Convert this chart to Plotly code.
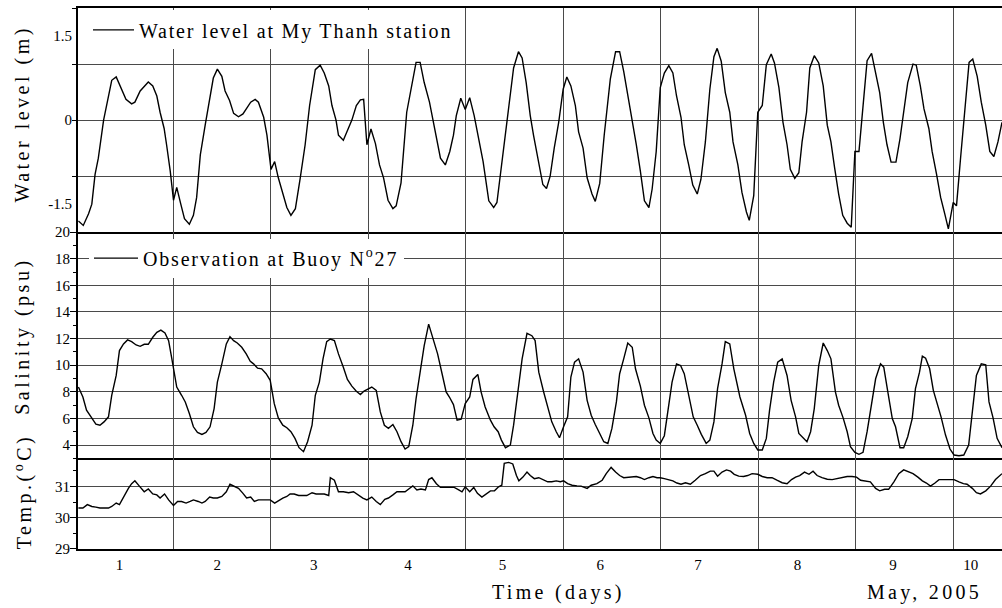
import plotly.graph_objects as go

# ---------------- data (hours since 1 May 2005, 00:00) ----------------
wl_hours = [0.7, 1.9, 3.2, 4.0, 4.8, 5.6, 6.9, 7.8, 8.9, 10.0, 11.1, 12.4, 13.8, 14.6, 15.9, 17.9, 19.0, 20.0,
            20.8, 21.8, 22.4, 23.3, 24.1, 24.9, 25.9, 26.8, 28.0, 29.0, 29.8, 30.7, 31.9, 33.0, 33.9, 34.9,
            36.0, 36.8, 37.9, 38.9, 40.1, 41.2, 42.1, 43.1, 44.2, 45.0, 46.3, 47.1, 48.1, 49.0, 49.9, 51.0,
            52.0, 53.0, 54.1, 55.3, 56.5, 57.6, 59.0, 60.2, 61.2, 62.3, 63.1, 64.1, 64.7, 65.9, 67.2, 68.0,
            69.1, 70.1, 70.9, 71.7, 72.7, 73.8, 74.8, 75.8, 76.9, 78.1, 78.9, 80.1, 81.5, 82.8, 83.8, 84.8,
            85.8, 87.1, 88.1, 88.9, 89.8, 91.0, 92.1, 93.0, 93.7, 94.8, 95.9, 97.0, 98.1, 99.2, 100.3, 101.7,
            102.9, 103.7, 104.7, 105.8, 106.8, 107.8, 109.0, 109.9, 110.9, 111.9, 112.7, 114.0, 115.0, 115.9,
            116.8, 117.8, 118.9, 120.0, 120.9, 121.9, 123.0, 123.8, 124.9, 125.9, 127.1, 127.9, 129.0, 130.1,
            131.6, 132.9, 133.9, 134.9, 136.0, 137.0, 138.0, 139.0, 140.0, 141.1, 141.9, 142.9, 143.9, 144.9,
            146.0, 147.0, 147.9, 149.0, 149.8, 150.9, 151.9, 153.0, 153.9, 155.0, 156.1, 157.1, 157.9, 158.9,
            159.9, 161.0, 161.8, 163.0, 164.0, 165.1, 165.8, 166.9, 167.9, 169.0, 170.0, 171.2, 172.0, 173.1,
            174.1, 175.1, 175.9, 177.0, 178.0, 178.8, 179.9, 180.7, 181.8, 182.9, 184.0, 185.0, 185.9, 186.8,
            187.8, 188.8, 189.9, 190.9, 191.8, 192.8, 193.8, 194.8, 195.9, 196.9, 197.9, 198.8, 199.7, 200.7,
            201.9, 202.9, 203.8, 204.8, 206.1, 206.9, 207.9, 208.8, 210.0, 210.8, 211.9, 212.9, 213.9, 214.8,
            216.0, 216.8, 217.8, 218.8, 219.9, 220.8, 221.9, 222.9, 224.0, 225.0, 226.0, 227.0, 228.0]
wl_values = [-1.80, -1.88, -1.67, -1.50, -0.97, -0.68, 0.00, 0.32, 0.71, 0.77, 0.58, 0.37, 0.29, 0.32, 0.52, 0.68,
             0.61, 0.43, 0.14, -0.15, -0.44, -0.91, -1.43, -1.20, -1.50, -1.76, -1.86, -1.70, -1.38, -0.62, -0.09,
             0.40, 0.75, 0.91, 0.78, 0.52, 0.35, 0.12, 0.06, 0.11, 0.20, 0.32, 0.37, 0.32, 0.05, -0.27, -0.88,
             -0.74, -1.03, -1.32, -1.56, -1.70, -1.58, -1.03, -0.44, 0.26, 0.90, 0.98, 0.84, 0.61, 0.26, 0.00,
             -0.27, -0.36, -0.15, 0.00, 0.26, 0.36, 0.37, -0.44, -0.16, -0.42, -0.80, -1.03, -1.43, -1.58, -1.53,
             -1.12, 0.14, 0.67, 1.03, 1.03, 0.67, 0.32, -0.04, -0.33, -0.68, -0.80, -0.56, -0.27, 0.08, 0.39,
             0.19, 0.40, 0.08, -0.33, -0.74, -1.44, -1.56, -1.47, -0.91, -0.27, 0.37, 0.93, 1.22, 1.11, 0.67,
             0.08, -0.27, -0.80, -1.15, -1.22, -1.00, -0.50, -0.04, 0.55, 0.77, 0.61, 0.26, -0.21, -0.50, -1.03,
             -1.32, -1.45, -1.13, -0.27, 0.73, 1.22, 1.22, 0.87, 0.43, 0.02, -0.44, -0.91, -1.44, -1.56, -1.23,
             -0.56, 0.58, 0.84, 0.97, 0.84, 0.43, 0.05, -0.44, -0.80, -1.16, -1.32, -1.06, -0.39, 0.55, 1.13,
             1.28, 1.05, 0.49, 0.14, -0.39, -0.80, -1.29, -1.64, -1.79, -1.35, 0.14, 0.26, 0.99, 1.18, 1.02,
             0.58, -0.04, -0.44, -0.88, -1.04, -0.94, -0.39, 0.14, 0.93, 1.15, 1.02, 0.61, -0.09, -0.39, -0.85,
             -1.32, -1.70, -1.84, -1.91, -0.56, -0.56, 0.26, 1.06, 1.19, 0.84, 0.49, -0.04, -0.44, -0.75, -0.75,
             -0.33, 0.14, 0.67, 1.00, 0.98, 0.61, 0.20, -0.15, -0.56, -0.97, -1.38, -1.67, -1.94, -1.47, -1.53,
             -0.68, 0.20, 1.03, 1.09, 0.78, 0.32, -0.09, -0.56, -0.65, -0.39, -0.04]

sal_hours = [0.7, 1.8, 2.7, 4.0, 5.0, 6.0, 7.0, 8.1, 8.9, 10.0, 10.8, 11.8, 12.8, 13.8, 14.9, 15.9, 16.9, 17.9,
             19.0, 20.0, 21.0, 22.0, 22.9, 23.7, 24.9, 26.1, 27.0, 28.0, 29.0, 30.0, 31.1, 32.1, 33.1, 34.1,
             34.9, 36.0, 37.1, 38.0, 38.9, 39.8, 40.9, 42.0, 43.0, 43.8, 44.8, 45.8, 46.9, 47.9, 48.9, 49.9,
             51.0, 52.0, 53.0, 54.0, 55.0, 56.1, 57.1, 58.2, 59.0, 60.0, 60.9, 61.8, 62.7, 63.7, 64.7, 65.9,
             66.9, 68.0, 69.1, 70.1, 71.0, 72.9, 74.0, 75.0, 76.0, 77.0, 78.1, 79.1, 80.1, 81.1, 82.0, 83.0,
             83.8, 84.8, 85.8, 86.9, 87.9, 89.1, 90.2, 91.2, 92.0, 93.0, 93.9, 94.9, 95.9, 97.0, 97.8, 99.0,
             99.8, 100.8, 102.1, 103.0, 104.0, 104.8, 105.8, 107.0, 107.8, 108.8, 109.9, 111.1, 112.3, 113.1,
             114.0, 115.2, 116.2, 117.2, 118.3, 119.1, 120.1, 121.1, 121.9, 122.8, 123.8, 124.9, 125.9, 126.9,
             127.9, 129.0, 130.0, 131.0, 132.0, 133.1, 133.9, 134.9, 135.9, 137.0, 137.8, 139.0, 140.0, 141.1,
             142.1, 142.9, 143.9, 144.9, 146.0, 146.8, 147.9, 148.9, 149.8, 150.9, 152.0, 153.0, 154.0, 155.2,
             156.1, 157.1, 158.0, 159.1, 159.9, 161.0, 162.0, 163.5, 164.9, 165.9, 166.9, 167.9, 169.0, 170.0,
             170.8, 171.8, 172.8, 173.9, 175.1, 176.1, 177.2, 178.0, 179.1, 180.0, 180.9, 181.8, 182.9, 184.0,
             185.0, 185.9, 187.0, 187.8, 188.9, 189.9, 190.7, 191.8, 192.8, 193.8, 194.8, 195.8, 196.9, 198.1,
             198.9, 199.9, 201.0, 201.8, 202.9, 203.8, 204.8, 205.9, 206.7, 207.7, 208.4, 209.2, 210.2, 211.1,
             212.0, 213.0, 214.1, 215.2, 216.2, 217.4, 218.6, 219.8, 220.7, 221.7, 222.9, 224.0, 224.8, 225.8,
             226.8, 228.0]
sal_values = [8.36, 7.61, 6.62, 5.99, 5.57, 5.49, 5.74, 6.12, 7.74, 9.23, 11.10, 11.60, 11.90, 11.77, 11.52,
              11.42, 11.57, 11.57, 12.10, 12.47, 12.64, 12.42, 11.85, 10.48, 8.36, 7.74, 7.24, 6.37, 5.37, 4.95,
              4.80, 4.95, 5.37, 6.74, 8.73, 10.10, 11.60, 12.15, 11.85, 11.67, 11.35, 10.85, 10.30, 10.10, 9.78,
              9.73, 9.36, 8.86, 7.11, 6.04, 5.49, 5.30, 5.00, 4.50, 3.80, 3.50, 4.25, 5.49, 7.74, 8.73, 10.48,
              11.77, 11.97, 11.85, 10.85, 9.85, 8.93, 8.43, 8.04, 7.79, 8.06, 8.36, 8.11, 6.49, 5.49, 5.25, 5.54,
              5.00, 4.25, 3.70, 3.88, 5.49, 7.49, 9.48, 11.47, 13.09, 12.10, 10.85, 9.36, 7.99, 7.61, 7.04, 5.87,
              5.94, 7.11, 7.61, 8.93, 9.31, 7.99, 6.86, 5.87, 5.37, 5.00, 4.37, 3.80, 4.00, 5.49, 7.99, 10.48,
              12.40, 12.22, 11.85, 9.48, 7.99, 6.86, 5.74, 5.00, 4.55, 5.37, 6.12, 9.11, 10.23, 10.48, 9.48, 7.36,
              6.24, 5.54, 4.87, 4.25, 4.12, 5.25, 7.24, 9.36, 10.48, 11.67, 11.35, 9.73, 8.43, 6.99, 6.04, 4.87,
              4.37, 4.12, 4.70, 6.86, 8.73, 10.10, 9.98, 9.36, 7.86, 6.12, 5.49, 4.80, 4.12, 4.37, 5.74, 8.24,
              10.10, 11.77, 11.60, 9.73, 7.61, 6.24, 4.87, 4.12, 3.63, 3.63, 4.50, 6.62, 8.73, 10.23, 10.48, 9.23,
              7.36, 6.12, 4.87, 4.55, 4.25, 5.00, 6.74, 9.98, 11.67, 11.10, 10.48, 7.99, 6.99, 6.04, 5.00, 3.88,
              3.45, 3.30, 3.45, 5.00, 6.99, 8.98, 10.10, 9.85, 7.99, 5.99, 5.37, 3.80, 3.80, 4.62, 5.99, 8.24,
              9.48, 10.68, 10.53, 9.73, 8.11, 7.24, 6.12, 4.75, 3.70, 3.25, 3.20, 3.25, 4.00, 6.49, 9.23, 10.10,
              10.03, 7.24, 6.04, 4.50, 3.80]

temp_hours = [0.7, 1.8, 2.9, 4.0, 5.0, 6.0, 7.0, 8.1, 8.9, 10.0, 10.8, 11.8, 13.0, 13.8, 14.6, 15.7, 16.9, 17.9,
              19.0, 20.0, 20.8, 21.9, 22.9, 24.1, 25.1, 26.1, 27.2, 28.2, 29.0, 30.2, 31.1, 31.9, 33.0, 33.9,
              34.9, 36.0, 37.1, 38.0, 39.0, 40.1, 41.2, 42.1, 43.1, 44.0, 45.0, 46.1, 47.1, 47.9, 49.0, 49.9,
              51.0, 52.0, 52.8, 53.8, 54.9, 55.9, 56.9, 58.2, 59.2, 60.2, 61.2, 62.3, 62.7, 63.7, 64.7, 65.9,
              67.2, 68.4, 69.7, 70.7, 71.7, 72.9, 74.0, 75.0, 76.1, 77.0, 78.1, 79.1, 80.3, 81.1, 82.0, 83.0,
              84.0, 85.0, 86.1, 86.9, 87.7, 88.8, 89.8, 91.0, 92.2, 93.2, 94.3, 95.1, 95.9, 97.0, 98.0, 98.9,
              100.0, 101.1, 102.1, 103.1, 104.1, 104.9, 105.5, 106.6, 107.6, 108.5, 109.1, 110.1, 111.1, 111.9,
              112.9, 114.0, 115.2, 116.2, 117.2, 118.3, 119.3, 120.1, 121.1, 122.2, 123.4, 124.4, 125.9, 126.9,
              128.3, 129.6, 130.6, 131.8, 132.9, 133.9, 134.9, 135.9, 137.0, 138.0, 139.0, 140.0, 141.1, 142.1,
              143.1, 143.9, 144.9, 146.0, 147.0, 148.0, 149.0, 150.1, 151.3, 152.5, 153.8, 155.0, 156.2, 157.1,
              158.0, 159.1, 160.2, 161.2, 162.1, 163.2, 164.4, 165.4, 166.5, 167.9, 169.0, 170.2, 171.4, 172.6,
              173.9, 175.1, 176.2, 177.2, 178.2, 179.4, 180.5, 181.5, 182.5, 183.7, 185.0, 186.2, 187.4, 188.7,
              189.9, 191.1, 192.2, 193.2, 194.4, 195.6, 196.9, 197.9, 199.1, 200.1, 201.4, 202.6, 203.8, 205.1,
              206.1, 207.3, 208.4, 209.4, 210.4, 211.5, 212.5, 213.7, 214.9, 216.2, 217.4, 218.5, 219.4, 220.7,
              221.7, 222.7, 224.0, 225.2, 226.4, 228.0]
temp_values = [30.31, 30.31, 30.42, 30.36, 30.34, 30.31, 30.31, 30.31, 30.36, 30.47, 30.42, 30.68, 30.94, 31.09,
               31.18, 31.01, 30.83, 30.92, 30.76, 30.73, 30.63, 30.76, 30.57, 30.39, 30.52, 30.52, 30.47, 30.52,
               30.57, 30.52, 30.47, 30.52, 30.66, 30.63, 30.63, 30.68, 30.83, 31.07, 31.02, 30.94, 30.78, 30.63,
               30.66, 30.52, 30.57, 30.57, 30.57, 30.57, 30.47, 30.55, 30.63, 30.68, 30.76, 30.76, 30.71, 30.71,
               30.71, 30.80, 30.76, 30.76, 30.76, 30.71, 31.28, 31.20, 30.83, 30.83, 30.80, 30.83, 30.70, 30.63,
               30.57, 30.66, 30.52, 30.42, 30.59, 30.63, 30.73, 30.83, 30.83, 30.83, 30.92, 31.02, 30.89, 30.92,
               30.89, 31.22, 31.28, 31.09, 30.97, 30.97, 30.97, 30.97, 30.89, 30.83, 30.99, 30.83, 30.97, 30.78,
               30.66, 30.76, 30.86, 30.86, 30.99, 31.04, 31.74, 31.77, 31.72, 31.35, 31.18, 31.30, 31.46, 31.35,
               31.25, 31.28, 31.20, 31.15, 31.15, 31.18, 31.15, 31.18, 31.09, 31.04, 31.02, 31.01, 30.94, 31.04,
               31.09, 31.20, 31.41, 31.61, 31.46, 31.35, 31.28, 31.30, 31.32, 31.32, 31.28, 31.22, 31.28, 31.32,
               31.28, 31.28, 31.25, 31.22, 31.18, 31.11, 31.07, 31.12, 31.07, 31.20, 31.35, 31.41, 31.49, 31.49,
               31.33, 31.46, 31.53, 31.49, 31.39, 31.33, 31.32, 31.35, 31.41, 31.39, 31.32, 31.28, 31.28, 31.20,
               31.12, 31.09, 31.22, 31.30, 31.35, 31.46, 31.39, 31.49, 31.35, 31.28, 31.23, 31.22, 31.25, 31.28,
               31.32, 31.32, 31.30, 31.20, 31.18, 31.15, 30.94, 30.86, 30.91, 30.91, 31.15, 31.41, 31.53, 31.46,
               31.41, 31.30, 31.18, 31.11, 31.01, 31.11, 31.22, 31.22, 31.22, 31.22, 31.15, 31.09, 31.07, 30.94,
               30.80, 30.76, 30.86, 31.01, 31.22, 31.41]

day_labels = ["1", "2", "3", "4", "5", "6", "7", "8", "9", "10"]
day_label_hours = [10.8, 34.9, 58.6, 81.8, 105.1, 129.1, 153.2, 177.7, 201.2, 220.3]

wl_ticks = [-1.5, 0, 1.5]
sal_ticks = [4, 6, 8, 10, 12, 14, 16, 18, 20]
temp_ticks = [29, 30, 31]

# ---------------- styling ----------------
FONT = "Liberation Serif"
TICKFONT = dict(family=FONT, size=15, color="black")
LINE = dict(color="black", width=1.4)
GRID = "#4a4a4a"


def spaced(text, px):
    return '<span style="letter-spacing:%spx">%s</span>' % (px, text)


fig = go.Figure()
fig.add_trace(go.Scatter(x=wl_hours, y=wl_values, mode="lines", line=LINE, xaxis="x", yaxis="y",
                         name=spaced("Water level at My Thanh station", 1.8), legend="legend"))
fig.add_trace(go.Scatter(x=sal_hours, y=sal_values, mode="lines", line=LINE, xaxis="x2", yaxis="y2",
                         name=spaced("Observation at Buoy N<sup>o</sup>27", 1.8), legend="legend2"))
fig.add_trace(go.Scatter(x=temp_hours, y=temp_values, mode="lines", line=LINE, xaxis="x3", yaxis="y3",
                         showlegend=False))

d_temp = 91 / 543
d_sal = 318 / 543

xbase = dict(range=[0.6, 228], showline=True, linecolor="black", linewidth=2,
             showgrid=False, zeroline=False, tickmode="array", tickvals=day_label_hours,
             ticktext=day_labels, ticks="", tickfont=TICKFONT, ticklabelstandoff=1,
             minor=dict(dtick=24, tick0=0, showgrid=True, gridcolor=GRID, gridwidth=1, ticks=""))

fig.update_layout(
    width=1002, height=608,
    margin=dict(l=78, r=0, t=6, b=59),
    paper_bgcolor="white", plot_bgcolor="white",
    font=dict(family=FONT, color="black"),
    xaxis=dict(xbase, anchor="y", mirror=True, showticklabels=False),
    xaxis2=dict(xbase, anchor="y2", matches="x", mirror=False, showticklabels=False),
    xaxis3=dict(xbase, anchor="y3", matches="x", mirror=False, showticklabels=True),
    yaxis=dict(domain=[d_sal, 1], range=[-2, 2], tickmode="array", tickvals=wl_ticks,
               ticktext=["-1.5", "0", "1.5"], showgrid=False, zeroline=False, ticks="",
               showline=True, linecolor="black", linewidth=2, tickfont=TICKFONT, ticklabelstandoff=1,
               minor=dict(dtick=1, tick0=0, showgrid=True, gridcolor=GRID, gridwidth=1,
                          ticks="outside", ticklen=4, tickcolor="black")),
    yaxis2=dict(domain=[d_temp, d_sal], range=[3, 20], tickmode="array", tickvals=sal_ticks,
                showgrid=True, gridcolor=GRID, gridwidth=1, zeroline=False, ticks="outside",
                ticklen=6, tickcolor="black", showline=True, linecolor="black", linewidth=2,
                tickfont=TICKFONT, ticklabelstandoff=-3,
                minor=dict(dtick=1, tick0=0, showgrid=False, ticks="outside", ticklen=3,
                           tickcolor="black")),
    yaxis3=dict(domain=[0, d_temp], range=[29, 31.9], tickmode="array", tickvals=temp_ticks,
                showgrid=True, gridcolor=GRID, gridwidth=1, zeroline=False, ticks="outside",
                ticklen=6, tickcolor="black", showline=True, linecolor="black", linewidth=2,
                tickfont=TICKFONT, ticklabelstandoff=-3,
                minor=dict(dtick=0.5, tick0=0, showgrid=False, ticks="outside", ticklen=3,
                           tickcolor="black")),
    legend=dict(x=10 / 924, y=(549 - 28) / 543, xanchor="left", yanchor="middle", bgcolor="white",
                borderwidth=0, itemwidth=41, font=dict(family=FONT, size=20, color="black")),
    legend2=dict(x=11 / 924, y=(549 - 257) / 543, xanchor="left", yanchor="middle", bgcolor="white",
                 borderwidth=0, itemwidth=44, font=dict(family=FONT, size=20, color="black")),
)

title_font = dict(family=FONT, size=20, color="black")
annos = [
    dict(text=spaced("Water level (m)", 3.5), x=0, xref="paper", xshift=-55, xanchor="center",
         y=(549 - 112) / 543, yref="paper", yanchor="middle", textangle=-90),
    dict(text=spaced("Salinity (psu)", 3.5), x=0, xref="paper", xshift=-55, xanchor="center",
         y=(549 - 336) / 543, yref="paper", yanchor="middle", textangle=-90),
    dict(text=spaced("Temp.(<sup>o</sup>C)", 3.5), x=0, xref="paper", xshift=-55, xanchor="center",
         y=(549 - 492) / 543, yref="paper", yanchor="middle", textangle=-90),
    dict(text=spaced("Time (days)", 3.3), x=(490 - 78) / 924, xref="paper", xanchor="left",
         y=0, yref="paper", yshift=-43, yanchor="middle"),
    dict(text=spaced("May, 2005", 3.3), x=(865 - 78) / 924, xref="paper", xanchor="left",
         y=0, yref="paper", yshift=-43, yanchor="middle"),
]
for a in annos:
    fig.add_annotation(showarrow=False, font=title_font, **a)

fig.write_html("out.html", config={"displayModeBar": False},
               post_script="document.body.style.margin='0';")
